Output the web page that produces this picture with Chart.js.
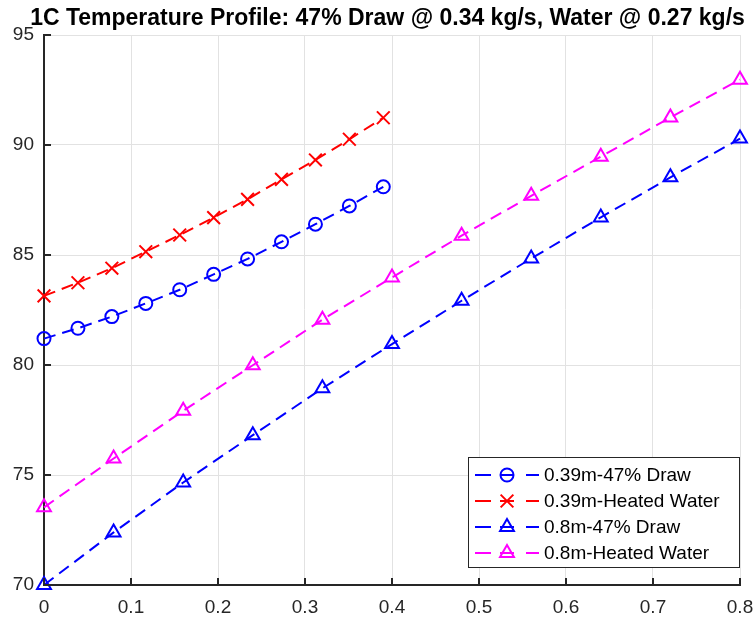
<!DOCTYPE html>
<html>
<head>
<meta charset="utf-8">
<script src="https://cdn.jsdelivr.net/npm/chart.js@4"></script>
<style>
  html, body { margin: 0; padding: 0; background: #fff; }
  #wrap { width: 756px; height: 620px; position: relative; }
</style>
</head>
<body>
<div id="wrap"><canvas id="c" width="756" height="620"></canvas></div>
<script>
// Positions along the tank (m)
const posShort = [0, 0.039, 0.078, 0.117, 0.156, 0.195, 0.234, 0.273, 0.312, 0.351, 0.39];
const posLong = [0, 0.08, 0.16, 0.24, 0.32, 0.40, 0.48, 0.56, 0.64, 0.72, 0.80];

// Temperatures (°C)
const drawShort = [81.2, 81.67, 82.2, 82.8, 83.42, 84.12, 84.82, 85.6, 86.4, 87.23, 88.1];
const waterShort = [83.14, 83.74, 84.4, 85.15, 85.91, 86.7, 87.53, 88.44, 89.32, 90.26, 91.24];
const drawLong = [70.0, 72.39, 74.66, 76.81, 78.94, 80.95, 82.92, 84.84, 86.71, 88.53, 90.29];
const waterLong = [73.53, 75.75, 77.92, 79.99, 82.06, 83.98, 85.88, 87.69, 89.47, 91.25, 92.97];

const seriesNames = ['0.39m-47% Draw', '0.39m-Heated Water', '0.8m-47% Draw', '0.8m-Heated Water'];
const yTicks = [70, 75, 80, 85, 90, 95];
const xTicks = [0, 0.1, 0.2, 0.3, 0.4, 0.5, 0.6, 0.7, 0.8];

const titleText = '1C Temperature Profile: 47% Draw @ 0.34 kg/s, Water @ 0.27 kg/s';

const BLUE = '#0000ff', RED = '#ff0000', MAGENTA = '#ff00ff';
const AXIS = '#262626';
const FONT = '"Liberation Sans", Arial, Helvetica, sans-serif';

function pairs(xs, ys) { return xs.map((x, i) => ({ x: x, y: ys[i] })); }

function makeSet(label, xs, ys, color, style, radius) {
  return {
    label: label,
    data: pairs(xs, ys),
    borderColor: color,
    backgroundColor: 'rgba(0,0,0,0)',
    borderWidth: 2,
    borderDash: [12, 7],
    pointStyle: style,
    pointRadius: radius,
    pointBorderColor: color,
    pointBackgroundColor: 'rgba(0,0,0,0)',
    pointBorderWidth: 2,
    tension: 0,
    fill: false,
    clip: 12
  };
}

const datasets = [
  makeSet(seriesNames[0], posShort, drawShort, BLUE, 'circle', 6.5),
  makeSet(seriesNames[1], posShort, waterShort, RED, 'crossRot', 9),
  makeSet(seriesNames[2], posLong, drawLong, BLUE, 'triangle', 8),
  makeSet(seriesNames[3], posLong, waterLong, MAGENTA, 'triangle', 8)
];

// Title, inward tick marks and a boxed legend with line + marker samples
const decorations = {
  id: 'decorations',
  afterDraw(chart) {
    const ctx = chart.ctx;
    const xs = chart.scales.x, ys = chart.scales.y;
    const area = chart.chartArea;

    ctx.save();
    // title
    ctx.fillStyle = '#000';
    ctx.font = 'bold 23px ' + FONT;
    ctx.textAlign = 'center';
    ctx.textBaseline = 'alphabetic';
    ctx.fillText(titleText, 387.5, 25);

    // inward ticks
    ctx.strokeStyle = AXIS;
    ctx.lineWidth = 2;
    ctx.beginPath();
    xTicks.forEach(v => {
      const px = Math.round(xs.getPixelForValue(v));
      ctx.moveTo(px, area.bottom);
      ctx.lineTo(px, area.bottom - 7);
    });
    yTicks.forEach(v => {
      const py = Math.round(ys.getPixelForValue(v));
      ctx.moveTo(area.left, py);
      ctx.lineTo(area.left + 7, py);
    });
    ctx.stroke();

    // legend
    const bx = 468.5, by = 457.5, bw = 271, bh = 110;
    ctx.fillStyle = '#fff';
    ctx.fillRect(bx, by, bw, bh);
    ctx.strokeStyle = AXIS;
    ctx.lineWidth = 1;
    ctx.strokeRect(bx, by, bw, bh);

    const rowY = [475, 501, 527, 553];
    datasets.forEach((ds, i) => {
      const y = rowY[i];
      ctx.strokeStyle = ds.borderColor;
      ctx.fillStyle = 'rgba(0,0,0,0)';
      ctx.lineWidth = 2;
      ctx.setLineDash([]);
      ctx.beginPath();
      ctx.moveTo(475, y); ctx.lineTo(491, y);
      ctx.moveTo(500, y); ctx.lineTo(514, y);
      ctx.moveTo(526, y); ctx.lineTo(539, y);
      ctx.stroke();
      Chart.helpers.drawPoint(ctx, {
        pointStyle: ds.pointStyle,
        radius: ds.pointRadius,
        borderWidth: 2,
        rotation: 0
      }, 507, y);
      ctx.fillStyle = '#000';
      ctx.font = '19px ' + FONT;
      ctx.textAlign = 'left';
      ctx.textBaseline = 'middle';
      ctx.fillText(ds.label, 544, y + 1);
    });
    ctx.restore();
  }
};

new Chart(document.getElementById('c'), {
  type: 'line',
  data: { datasets: datasets },
  plugins: [decorations],
  options: {
    responsive: false,
    animation: false,
    devicePixelRatio: 1,
    layout: { padding: { left: 0, right: 16, top: 35, bottom: 0 } },
    plugins: {
      legend: { display: false },
      title: { display: false },
      tooltip: { enabled: false }
    },
    scales: {
      x: {
        type: 'linear',
        min: 0, max: 0.8,
        afterFit(s) { s.height = 35; s.paddingLeft = 0; s.paddingRight = 0; },
        afterBuildTicks(s) { s.ticks = xTicks.map(v => ({ value: v })); },
        ticks: {
          color: AXIS,
          font: { family: FONT, size: 19 },
          padding: 11,
          maxRotation: 0,
          callback: v => String(Math.round(v * 10) / 10)
        },
        grid: { color: '#e2e2e2', lineWidth: 1, drawTicks: false },
        border: { display: true, color: AXIS, width: 2 }
      },
      y: {
        type: 'linear',
        min: 70, max: 95,
        afterFit(s) { s.width = 44; s.paddingTop = 0; s.paddingBottom = 0; },
        afterBuildTicks(s) { s.ticks = yTicks.map(v => ({ value: v })); },
        ticks: {
          color: AXIS,
          font: { family: FONT, size: 19 },
          padding: 10,
          callback: v => String(v)
        },
        grid: { color: '#e2e2e2', lineWidth: 1, drawTicks: false },
        border: { display: true, color: AXIS, width: 2 }
      }
    }
  }
});
</script>
</body>
</html>
